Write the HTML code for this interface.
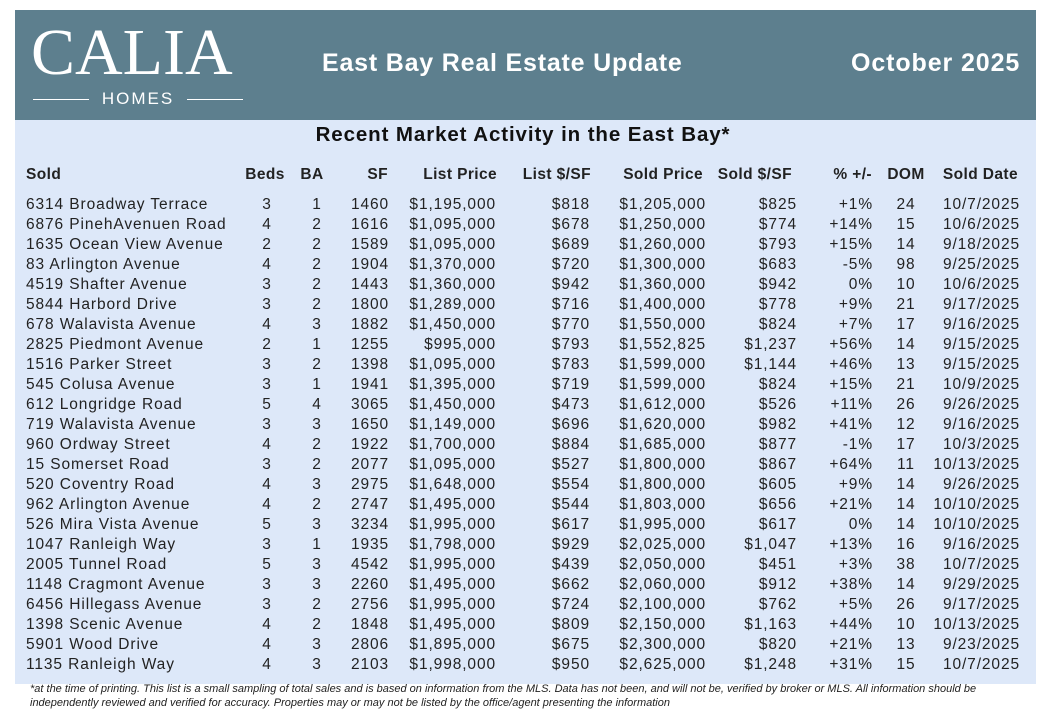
<!DOCTYPE html>
<html><head><meta charset="utf-8">
<style>
body{margin:0;width:1046px;height:726px;background:#fff;position:relative;overflow:hidden;font-family:"Liberation Sans",sans-serif;color:#222;}
#hdr{position:absolute;left:15px;top:10px;width:1021px;height:110px;background:#5d7f8e;}
#body{position:absolute;left:15px;top:120px;width:1021px;height:564px;background:#dde8f9;}
.t{position:absolute;white-space:nowrap;font-size:15.5px;letter-spacing:0.9px;line-height:20px;}
.b{font-weight:bold;letter-spacing:0.4px;}
</style></head><body>
<div id="hdr"></div>
<div id="body"></div>
<div style="position:absolute;left:31px;top:20px;font-family:'Liberation Serif',serif;font-size:66px;color:#fff;letter-spacing:0px;line-height:66px;">CALIA</div>
<div style="position:absolute;left:33px;top:89px;width:210px;height:20px;color:#fff;font-size:17px;letter-spacing:2px;text-align:center;line-height:20px;">
<span style="position:absolute;left:0;top:10px;width:56px;border-top:1px solid #fff"></span>HOMES<span style="position:absolute;right:0;top:10px;width:56px;border-top:1px solid #fff"></span></div>
<div class="t b" style="left:322px;top:48px;font-size:25px;letter-spacing:0.8px;line-height:30px;color:#fff;">East Bay Real Estate Update</div>
<div class="t b" style="left:851px;top:48px;font-size:25px;letter-spacing:0.9px;line-height:30px;color:#fff;">October 2025</div>
<div class="t b" style="left:0;width:1046px;text-align:center;top:122px;font-size:20.5px;letter-spacing:0.9px;line-height:26px;color:#111;padding-left:0px;">Recent Market Activity in the East Bay*</div>
<div style="position:absolute;left:30px;top:683px;width:1016px;font-size:11px;font-style:italic;line-height:13.5px;color:#222;">*at the time of printing. This list is a small sampling of total sales and is based on information from the MLS. Data has not been, and will not be, verified by broker or MLS. All information should be independently reviewed and verified for accuracy. Properties may or may not be listed by the office/agent presenting the information</div>
<script>
const headers=["Sold","Beds","BA","SF","List Price","List $/SF","Sold Price","Sold $/SF","% +/-","DOM","Sold Date"];
const addresses=["6314 Broadway Terrace","6876 PinehAvenuen Road","1635 Ocean View Avenue","83 Arlington Avenue","4519 Shafter Avenue","5844 Harbord Drive","678 Walavista Avenue","2825 Piedmont Avenue","1516 Parker Street","545 Colusa Avenue","612 Longridge Road","719 Walavista Avenue","960 Ordway Street","15 Somerset Road","520 Coventry Road","962 Arlington Avenue","526 Mira Vista Avenue","1047 Ranleigh Way","2005 Tunnel Road","1148 Cragmont Avenue","6456 Hillegass Avenue","1398 Scenic Avenue","5901 Wood Drive","1135 Ranleigh Way"];
const beds=[3,4,2,4,3,3,4,2,3,3,5,3,4,3,4,4,5,3,5,3,3,4,4,4];
const baths=[1,2,2,2,2,2,3,1,2,1,4,3,2,2,3,2,3,1,3,3,2,2,3,3];
const sqft=[1460,1616,1589,1904,1443,1800,1882,1255,1398,1941,3065,1650,1922,2077,2975,2747,3234,1935,4542,2260,2756,1848,2806,2103];
const listPrice=["$1,195,000","$1,095,000","$1,095,000","$1,370,000","$1,360,000","$1,289,000","$1,450,000","$995,000","$1,095,000","$1,395,000","$1,450,000","$1,149,000","$1,700,000","$1,095,000","$1,648,000","$1,495,000","$1,995,000","$1,798,000","$1,995,000","$1,495,000","$1,995,000","$1,495,000","$1,895,000","$1,998,000"];
const listPsf=["$818","$678","$689","$720","$942","$716","$770","$793","$783","$719","$473","$696","$884","$527","$554","$544","$617","$929","$439","$662","$724","$809","$675","$950"];
const soldPrice=["$1,205,000","$1,250,000","$1,260,000","$1,300,000","$1,360,000","$1,400,000","$1,550,000","$1,552,825","$1,599,000","$1,599,000","$1,612,000","$1,620,000","$1,685,000","$1,800,000","$1,800,000","$1,803,000","$1,995,000","$2,025,000","$2,050,000","$2,060,000","$2,100,000","$2,150,000","$2,300,000","$2,625,000"];
const soldPsf=["$825","$774","$793","$683","$942","$778","$824","$1,237","$1,144","$824","$526","$982","$877","$867","$605","$656","$617","$1,047","$451","$912","$762","$1,163","$820","$1,248"];
const pct=["+1%","+14%","+15%","-5%","0%","+9%","+7%","+56%","+46%","+15%","+11%","+41%","-1%","+64%","+9%","+21%","0%","+13%","+3%","+38%","+5%","+44%","+21%","+31%"];
const dom=[24,15,14,98,10,21,17,14,13,21,26,12,17,11,14,14,14,16,38,14,26,10,13,15];
const soldDate=["10/7/2025","10/6/2025","9/18/2025","9/25/2025","10/6/2025","9/17/2025","9/16/2025","9/15/2025","9/15/2025","10/9/2025","9/26/2025","9/16/2025","10/3/2025","10/13/2025","9/26/2025","10/10/2025","10/10/2025","9/16/2025","10/7/2025","9/29/2025","9/17/2025","10/13/2025","9/23/2025","10/7/2025"];
const cols=[[26,'l'],[267,'c'],[317,'c'],[370,'c'],[496,'r'],[590,'r'],[706,'r'],[797,'r'],[873,'r'],[906,'c'],[1020,'r']];
const hdrCols=[[26,'l'],[265,'c'],[312,'c'],[388,'r'],[497,'r'],[591,'r'],[703,'r'],[792,'r'],[872,'r'],[906,'c'],[1018,'r']];
const names=["address","beds","baths","sqft","list-price","list-psf","sold-price","sold-psf","pct-change","dom","sold-date"];
const colData=[addresses,beds,baths,sqft,listPrice,listPsf,soldPrice,soldPsf,pct,dom,soldDate];
function place(el,c,y){const [x,a]=c;el.style.top=y+'px';
 if(a==='l'){el.style.left=x+'px';}
 else if(a==='r'){el.style.right=(1046-x)+'px';}
 else{el.style.left=(x-60)+'px';el.style.width='120px';el.style.textAlign='center';}}
headers.forEach((h,i)=>{const el=document.createElement('div');el.className='t b';el.textContent=h;
 
 
 place(el,hdrCols[i],165);
 document.body.appendChild(el);});
addresses.forEach((a,r)=>{const y=195+r*20;
 colData.forEach((arr,ci)=>{const el=document.createElement('div');el.className='t';el.textContent=arr[r];
  
  
  place(el,cols[ci],y);document.body.appendChild(el);});});
</script>
</body></html>
